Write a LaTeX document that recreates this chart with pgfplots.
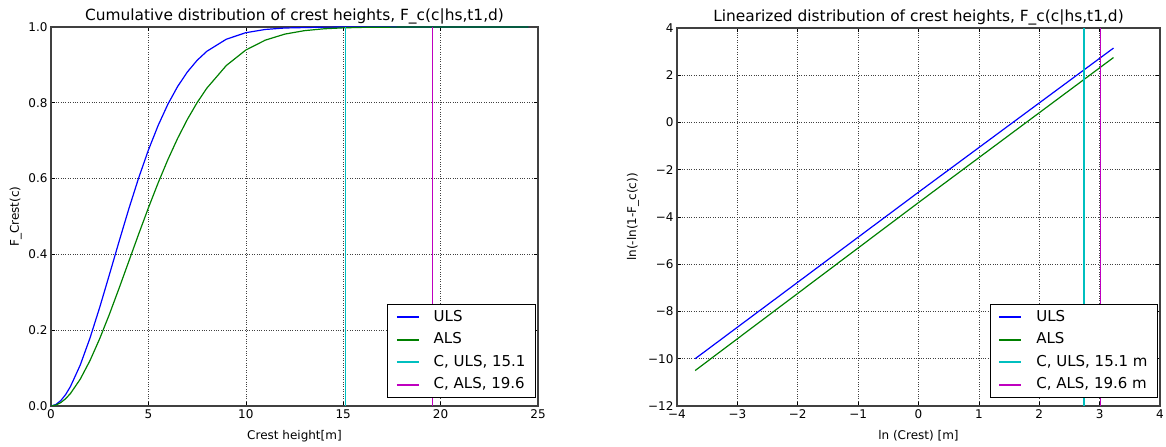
\documentclass[border=0pt]{standalone}
\usepackage{fontspec}
\setmainfont{DejaVu Sans}
\usepackage{pgfplots}
\pgfplotsset{compat=1.18}
\definecolor{mplb}{rgb}{0,0,1}
\definecolor{mplg}{rgb}{0,0.5,0}
\definecolor{mplc}{rgb}{0,0.75,0.75}
\definecolor{mplm}{rgb}{0.75,0,0.75}
\newcommand{\tfont}{\fontsize{15.4bp}{18bp}\selectfont}
\newcommand{\lfont}{\fontsize{12bp}{14bp}\selectfont}
\pgfplotsset{
  mpl/.style={
    scale only axis,
    anchor=south west,
    axis line style={black!75, line width=1.2bp},
    tick align=inside,
    tick pos=both,
    major tick length=4bp,
    tick style={black, line width=0.6bp},
    grid=major,
    major grid style={dotted, black!75, line width=0.6bp},
    /pgf/number format/assume math mode=true,
    tick label style={font=\lfont},
    every axis title/.style={at={(0.5,1)}, anchor=base, yshift=6bp, font=\tfont},
    every axis x label/.style={at={(0.5,0)}, anchor=base, yshift=-33bp, font=\lfont},
    every axis y label/.style={at={(0,0.5)}, rotate=90, anchor=base, font=\lfont},
    legend style={font=\fontsize{15bp}{18bp}\selectfont, at={(1,0)}, anchor=south east,
      xshift=-2bp, yshift=8bp, draw=black, line width=1bp, fill=white,
      inner xsep=8bp, inner ysep=1.5bp, row sep=0bp, column sep=12bp,
      nodes={text height=11bp, text depth=3.5bp, inner ysep=4bp}},
    legend cell align=left,
    legend image code/.code={\draw[#1, line width=1.8bp] (0bp,0bp) -- (22bp,0bp);},
    every axis plot/.append style={line width=1.2bp},
  }
}
\begin{document}
\begin{tikzpicture}
\useasboundingbox (0,0) rectangle (1166bp,447bp);
\begin{axis}[mpl, at={(51bp,41bp)}, width=487bp, height=379bp,
  xmin=0, xmax=25, ymin=0, ymax=1,
  xtick={0,5,10,15,20,25},
  ytick={0,0.2,0.4,0.6,0.8,1.0},
  yticklabels={0.0,0.2,0.4,0.6,0.8,1.0},
  title={Cumulative distribution of crest heights, F\_c(c|hs,t1,d)},
  xlabel={Crest height[m]},
  ylabel={F\_Crest(c)},
  ylabel style={yshift=32bp},
]
\addplot[mplb] coordinates {
(0,0) (0.25,0.00378) (0.5,0.01406) (0.75,0.0301) (1,0.0515) (1.5,0.1079) (2,0.1790)
(2.5,0.2602) (3,0.3470) (3.5,0.4351) (4,0.5210) (4.5,0.6018) (5,0.6753) (5.5,0.7402)
(6,0.7962) (6.5,0.8430) (7,0.8813) (7.5,0.9120) (8,0.9359) (9,0.9678) (10,0.9850)
(11,0.99347) (12,0.99735) (14,0.99965) (16,0.99996) (18,1.0) (24.5,1.0)};
\addlegendentry{ULS}
\addplot[mplg] coordinates {
(0,0) (0.25,0.00235) (0.5,0.00886) (0.75,0.0192) (1,0.0331) (1.5,0.0707) (2,0.1196)
(2.5,0.1776) (3,0.2423) (3.5,0.3114) (4,0.3825) (4.5,0.4536) (5,0.5228) (5.5,0.5887)
(6,0.6501) (6.5,0.7061) (7,0.7562) (7.5,0.8004) (8,0.8386) (9,0.8984) (10,0.9392)
(11,0.9653) (12,0.9812) (13,0.99028) (14,0.99522) (15,0.99776) (16,0.99900)
(18,0.99983) (20,0.99997) (24.5,1.0)};
\addlegendentry{ALS}
\addplot[mplc] coordinates {(15.1,0) (15.1,1)};
\addlegendentry{C, ULS, 15.1}
\addplot[mplm] coordinates {(19.6,0) (19.6,1)};
\addlegendentry{C, ALS, 19.6}
\end{axis}
\begin{axis}[mpl, at={(677bp,41bp)}, width=483bp, height=378bp,
  xmin=-4, xmax=4, ymin=-12, ymax=4,
  xtick={-4,-3,-2,-1,0,1,2,3,4},
  xticklabels={−4,−3,−2,−1,0,1,2,3,4},
  ytick={-12,-10,-8,-6,-4,-2,0,2,4},
  yticklabels={−12,−10,−8,−6,−4,−2,0,2,4},
  title={Linearized distribution of crest heights, F\_c(c|hs,t1,d)},
  xlabel={ln (Crest) [m]},
  ylabel={ln(-ln(1-F\_c(c))},
  ylabel style={yshift=41bp},
]
\addplot[mplb] coordinates {(-3.7,-10.0) (0,-2.95) (3.23,3.15)};
\addlegendentry{ULS}
\addplot[mplg] coordinates {(-3.7,-10.5) (0,-3.39) (3.23,2.75)};
\addlegendentry{ALS}
\addplot[mplc] coordinates {(2.74,-12) (2.74,4)};
\addlegendentry{C, ULS, 15.1 m}
\addplot[mplm] coordinates {(3.01,-12) (3.01,4)};
\addlegendentry{C, ALS, 19.6 m}
\end{axis}
\end{tikzpicture}
\end{document}
